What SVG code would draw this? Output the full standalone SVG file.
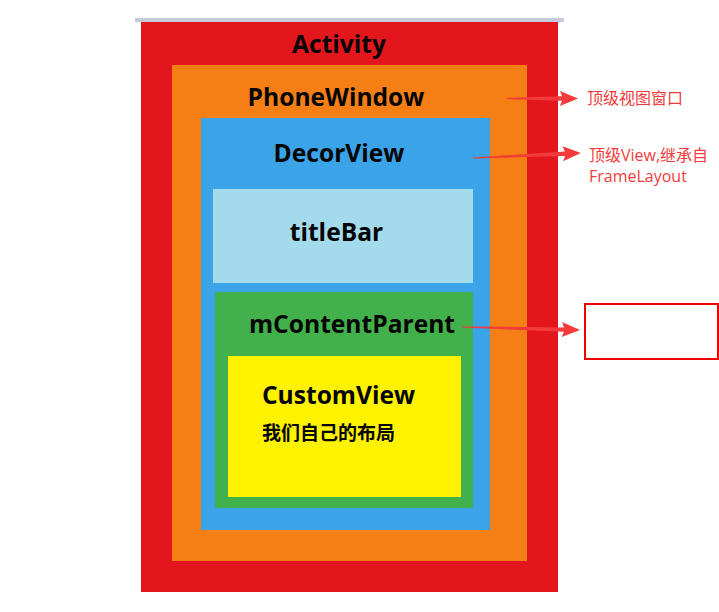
<svg xmlns="http://www.w3.org/2000/svg" width="719" height="612" viewBox="0 0 719 612">
<style>
.t{font-family:"Open Sans","Noto Sans CJK SC",sans-serif;font-weight:700;fill:#050505;text-anchor:middle;font-size:24.6px}
.n{font-family:"Open Sans","Noto Sans CJK SC",sans-serif;font-size:16px;fill:#f23b3b}
.arr{fill:#f33b3b}
</style>
<rect x="0" y="0" width="719" height="612" fill="#ffffff"/>
<rect x="135" y="18" width="429" height="4" fill="#c7cbd9"/>
<g id="activity">
<rect x="141" y="22" width="417" height="570" fill="#e3161d"/>
<text class="t" x="339" y="53">Activity</text>
</g>
<g id="phonewindow">
<rect x="172" y="65" width="355" height="496" fill="#f57f14"/>
<text class="t" x="336" y="106">PhoneWindow</text>
</g>
<g id="decorview">
<rect x="201" y="118" width="289" height="412" fill="#3ba3e8"/>
<text class="t" x="339" y="162">DecorView</text>
</g>
<g id="titlebar">
<rect x="213" y="189" width="260" height="94" fill="#a4dbec"/>
<text class="t" x="336.5" y="241">titleBar</text>
</g>
<g id="mcontentparent">
<rect x="215" y="292" width="258" height="216" fill="#42b14b"/>
<text class="t" x="352" y="333">mContentParent</text>
</g>
<g id="customview">
<rect x="228" y="356" width="233" height="141" fill="#fff200"/>
<text class="t" x="338.5" y="404">CustomView</text>
<text class="t" x="262" y="440" font-size="19" style="text-anchor:start;font-size:19px">我们自己的布局</text>
</g>
<g id="note-empty">
<rect x="585" y="304" width="133" height="55" fill="none" stroke="#f00000" stroke-width="2"/>
</g>
<g id="notes">
<text class="n" x="587" y="104">顶级视图窗口</text>
<text class="n" x="589" y="161">顶级View,继承自</text>
<text class="n" x="589" y="182">FrameLayout</text>
</g>
<g id="connectors">
<polygon class="arr" transform="translate(507,98.5)" points="0,-0.6 55,-2.2 53,-7.5 71,0 53,7.5 55,2.2 0,0.6"/>
<polygon class="arr" transform="translate(473,158) rotate(-2.65)" points="0,-0.6 92,-2.2 90,-7.5 108,0 90,7.5 92,2.2 0,0.6"/>
<polygon class="arr" transform="translate(462,327) rotate(1.46)" points="0,-0.6 102,-2.2 100,-7.5 118,0 100,7.5 102,2.2 0,0.6"/>
</g>
</svg>
